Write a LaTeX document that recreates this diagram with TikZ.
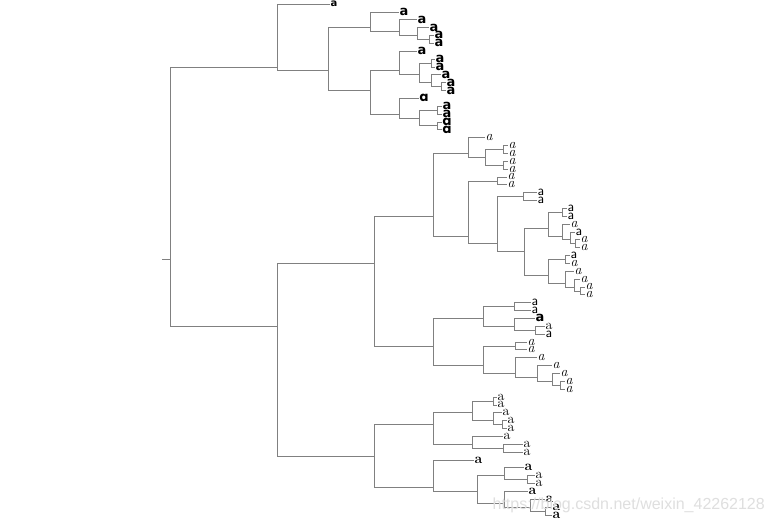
\documentclass[tikz,border=0pt]{standalone}
\usepackage{fontspec}
\usepackage{tikz}
\usetikzlibrary{positioning, calc}
\newfontfamily\dejavu{DejaVu Sans}
\newfontfamily\geo{Poppins}
\newfontfamily\libsans{Liberation Sans}
\newcommand{\ypos}[1]{7.86*#1-3.86}
\newcommand{\ftA}{\dejavu\bfseries\fontsize{13}{13}\selectfont}
\newcommand{\ftAs}{\dejavu\bfseries\fontsize{10}{10}\selectfont}
\newcommand{\ftB}{\geo\bfseries\fontsize{13}{13}\selectfont}
\newcommand{\ftC}{\rmfamily\itshape\fontsize{14}{14}\selectfont}
\newcommand{\ftD}{\sffamily\fontsize{14}{14}\selectfont}
\newcommand{\ftE}{\rmfamily\fontsize{14}{14}\selectfont}
\newcommand{\ftF}{\rmfamily\bfseries\fontsize{14}{14}\selectfont}

\begin{document}
\begin{tikzpicture}[x=1pt, y=-1pt,
  link/.style={draw=black!50, line width=0.7pt},
  leaf/.style={anchor=west, inner sep=0.5pt, text=black},
  wm/.style={anchor=east, inner sep=0pt, text=gray!25, font=\libsans\fontsize{16}{16}\selectfont}
]
  \useasboundingbox[fill=white] (0,0) rectangle (773,525);

  \coordinate (stub) at (162,\ypos{33.5});
  \coordinate (root) at (170,\ypos{33.5});

  \coordinate (T)   at (277,\ypos{9});
  \coordinate (A)   at (328,\ypos{9.5});
  \coordinate (A1)  at (370,\ypos{4});
  \coordinate (A1a) at (399,\ypos{4.5});
  \coordinate (A1b) at (417,\ypos{5});
  \coordinate (A1c) at (429,\ypos{5.5});
  \coordinate (A2)  at (370,\ypos{12});
  \coordinate (A2a) at (399,\ypos{9.5});
  \coordinate (A2b) at (419,\ypos{10});
  \coordinate (A2c) at (431,\ypos{8.5});
  \coordinate (A2d) at (431,\ypos{11});
  \coordinate (A2e) at (441,\ypos{11.5});
  \coordinate (A2f) at (399,\ypos{15});
  \coordinate (A2g) at (419,\ypos{15.5});
  \coordinate (A2h) at (437,\ypos{14.5});
  \coordinate (A2i) at (437,\ypos{16.5});

  \coordinate (B)   at (277,\ypos{42});
  \coordinate (B1)  at (374,\ypos{34});
  \coordinate (C)   at (433,\ypos{28});
  \coordinate (C1)  at (468,\ypos{20});
  \coordinate (C2)  at (485,\ypos{20.5});
  \coordinate (C3)  at (503,\ypos{19.5});
  \coordinate (C4)  at (503,\ypos{21.5});
  \coordinate (C5)  at (468,\ypos{30.5});
  \coordinate (C6)  at (497,\ypos{23.5});
  \coordinate (C7)  at (497,\ypos{31.5});
  \coordinate (C8)  at (523,\ypos{25.5});
  \coordinate (C9)  at (524,\ypos{32.5});
  \coordinate (C10) at (548,\ypos{29.5});
  \coordinate (C11) at (562,\ypos{27.5});
  \coordinate (C12) at (562,\ypos{30.5});
  \coordinate (C13) at (570,\ypos{31});
  \coordinate (C14) at (575,\ypos{31.5});
  \coordinate (C15) at (548,\ypos{35.5});
  \coordinate (C16) at (565,\ypos{33.5});
  \coordinate (C17) at (565,\ypos{36.5});
  \coordinate (C18) at (574,\ypos{37});
  \coordinate (C19) at (580,\ypos{37.5});
  \coordinate (D)   at (433,\ypos{44.5});
  \coordinate (D1)  at (483,\ypos{41});
  \coordinate (D2)  at (514,\ypos{39.5});
  \coordinate (D3)  at (514,\ypos{42});
  \coordinate (D4)  at (535,\ypos{42.5});
  \coordinate (D5)  at (483,\ypos{47});
  \coordinate (D6)  at (515,\ypos{44.5});
  \coordinate (D7)  at (515,\ypos{48});
  \coordinate (D8)  at (537,\ypos{48.5});
  \coordinate (D9)  at (552,\ypos{49});
  \coordinate (D10) at (560,\ypos{49.5});

  \coordinate (B2)  at (374,\ypos{58.5});
  \coordinate (E)   at (433,\ypos{54.5});
  \coordinate (E1)  at (472,\ypos{53});
  \coordinate (E2)  at (493,\ypos{51.5});
  \coordinate (E3)  at (493,\ypos{54});
  \coordinate (E4)  at (502,\ypos{54.5});
  \coordinate (E5)  at (472,\ypos{57});
  \coordinate (E6)  at (503,\ypos{57.5});
  \coordinate (F)   at (433,\ypos{62.5});
  \coordinate (F1)  at (477,\ypos{63});
  \coordinate (F2)  at (504,\ypos{61});
  \coordinate (F3)  at (527,\ypos{61.5});
  \coordinate (F4)  at (504,\ypos{64.5});
  \coordinate (F5)  at (530,\ypos{65});
  \coordinate (F6)  at (545,\ypos{65.5});

  \foreach \i/\x/\f in {1/330/\ftAs, 2/399/\ftA, 3/417/\ftA, 4/429/\ftA, 5/434/\ftA, 6/434/\ftA,
      7/417/\ftA, 8/435/\ftA, 9/435/\ftA, 10/441/\ftA, 11/446/\ftA, 12/446/\ftA,
      13/419/\ftB, 14/442/\ftA, 15/442/\ftA, 16/442/\ftB, 17/442/\ftB,
      18/485/\ftC, 19/508/\ftC, 20/508/\ftC, 21/508/\ftC, 22/508/\ftC, 23/507/\ftC, 24/507/\ftC,
      25/537/\ftD, 26/537/\ftD, 27/567/\ftD, 28/567/\ftD, 29/570/\ftC, 30/575/\ftD, 31/580/\ftC,
      32/580/\ftC, 33/570/\ftD, 34/570/\ftC, 35/574/\ftC, 36/580/\ftC, 37/585/\ftC, 38/585/\ftC,
      39/531/\ftD, 40/531/\ftD, 41/535/\ftA, 42/545/\ftE, 43/545/\ftD,
      44/527/\ftC, 45/527/\ftC, 46/537/\ftC, 47/552/\ftC, 48/560/\ftC, 49/565/\ftC, 50/565/\ftC,
      51/497/\ftE, 52/497/\ftE, 53/502/\ftE, 54/507/\ftE, 55/507/\ftE, 56/503/\ftE, 57/523/\ftE,
      58/523/\ftE, 59/474/\ftF, 60/524/\ftF, 61/535/\ftE, 62/535/\ftE, 63/528/\ftF, 64/545/\ftF,
      65/552/\ftF, 66/552/\ftF}
    \node[leaf, font=\f] (l\i) at (\x,\ypos{\i}) {a};

  \draw[link] (stub) -- (root);
  \foreach \p/\c in {root/T, root/B, T/l1, T/A, A/A1, A/A2,
      A1/l2, A1/A1a, A1a/l3, A1a/A1b, A1b/l4, A1b/A1c, A1c/l5, A1c/l6,
      A2/A2a, A2/A2f, A2a/l7, A2a/A2b, A2b/A2c, A2b/A2d, A2c/l8, A2c/l9, A2d/l10, A2d/A2e,
      A2e/l11, A2e/l12, A2f/l13, A2f/A2g, A2g/A2h, A2g/A2i, A2h/l14, A2h/l15, A2i/l16, A2i/l17,
      B/B1, B/B2, B1/C, B1/D,
      C/C1, C/C5, C1/l18, C1/C2, C2/C3, C2/C4, C3/l19, C3/l20, C4/l21, C4/l22,
      C5/C6, C5/C7, C6/l23, C6/l24, C7/C8, C7/C9, C8/l25, C8/l26, C9/C10, C9/C15,
      C10/C11, C10/C12, C11/l27, C11/l28, C12/l29, C12/C13, C13/l30, C13/C14, C14/l31, C14/l32,
      C15/C16, C15/C17, C16/l33, C16/l34, C17/l35, C17/C18, C18/l36, C18/C19, C19/l37, C19/l38,
      D/D1, D/D5, D1/D2, D1/D3, D2/l39, D2/l40, D3/l41, D3/D4, D4/l42, D4/l43,
      D5/D6, D5/D7, D6/l44, D6/l45, D7/l46, D7/D8, D8/l47, D8/D9, D9/l48, D9/D10, D10/l49, D10/l50,
      B2/E, B2/F, E/E1, E/E5, E1/E2, E1/E3, E2/l51, E2/l52, E3/l53, E3/E4, E4/l54, E4/l55,
      E5/l56, E5/E6, E6/l57, E6/l58,
      F/l59, F/F1, F1/F2, F1/F4, F2/l60, F2/F3, F3/l61, F3/l62, F4/l63, F4/F5, F5/l64, F5/F6,
      F6/l65, F6/l66}
    \draw[link] (\p) |- (\c);

  \node[wm] (mark) at (765,505) {https://blog.csdn.net/weixin\_42262128};
\end{tikzpicture}
\end{document}
